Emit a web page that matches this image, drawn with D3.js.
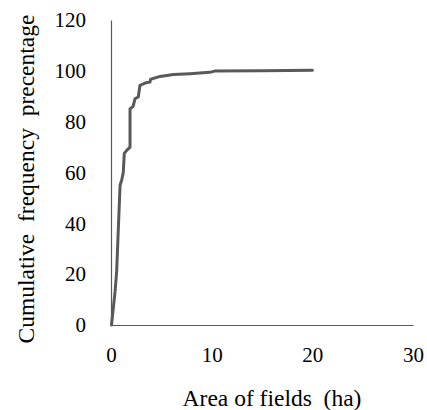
<!DOCTYPE html>
<html>
<head>
<meta charset="utf-8">
<script src="https://cdn.jsdelivr.net/npm/d3@7"></script>
<style>
  html, body { margin: 0; padding: 0; background: #fff; }
  svg { display: block; }
  text { font-family: "Liberation Serif", "Times New Roman", serif; fill: #000; }
</style>
</head>
<body>
<svg id="chart" width="427" height="410"></svg>
<script>
// Field area (ha) and cumulative frequency (%) of the fields
const areaHa = [0.05, 0.4, 0.56, 0.9, 1.06, 1.22, 1.32, 1.56, 1.89, 1.89, 2.2, 2.38, 2.71, 2.88, 3.38, 3.87, 3.94, 4.87, 6.2, 7.85, 9.8, 10.3, 15, 20];
const cumPct = [0, 13, 21, 55, 57, 60, 67.5, 68.7, 70, 85, 86, 89, 89.7, 94.3, 95.2, 95.6, 96.7, 97.8, 98.6, 98.9, 99.4, 99.9, 100, 100.2];

const xTicks = [0, 10, 20, 30];
const yTicks = [0, 20, 40, 60, 80, 100, 120];

const xTitle = "Area of fields  (ha)";
const yTitle = "Cumulative  frequency  precentage";

const svg = d3.select("#chart");
const margin = { left: 111, right: 14, top: 20, bottom: 85 };
const W = 427, H = 410;

const x = d3.scaleLinear().domain([0, 30]).range([margin.left, W - margin.right]);
const y = d3.scaleLinear().domain([0, 120]).range([H - margin.bottom, margin.top]);

// axes
const xAxis = svg.append("g")
  .attr("transform", `translate(0,${y(0)})`)
  .call(d3.axisBottom(x).tickValues(xTicks).tickSize(0).tickPadding(22).tickFormat(d3.format("d")));
const yAxis = svg.append("g")
  .attr("transform", `translate(${x(0)},0)`)
  .call(d3.axisLeft(y).tickValues(yTicks).tickSize(0).tickPadding(25).tickFormat(d3.format("d")));

[xAxis, yAxis].forEach(g => {
  g.select(".domain").attr("stroke", "#595959").attr("stroke-width", 1.2);
  g.selectAll("text").style("font-family", "'Liberation Serif', serif").style("font-size", "21px").attr("fill", "#000");
});

// curve
const line = d3.line().x((d, i) => x(areaHa[i])).y(d => y(d));
svg.append("path")
  .datum(cumPct)
  .attr("d", line)
  .attr("fill", "none")
  .attr("stroke", "#595959")
  .attr("stroke-width", 3)
  .attr("stroke-linejoin", "round")
  .attr("stroke-linecap", "round");

// titles
svg.append("text")
  .attr("x", 272)
  .attr("y", 406)
  .attr("text-anchor", "middle")
  .style("font-size", "23.5px")
  .attr("xml:space", "preserve")
  .text(xTitle);

svg.append("text")
  .attr("transform", "translate(33.5,179) rotate(-90)")
  .attr("text-anchor", "middle")
  .style("font-size", "23.5px")
  .attr("xml:space", "preserve")
  .text(yTitle);
</script>
</body>
</html>
